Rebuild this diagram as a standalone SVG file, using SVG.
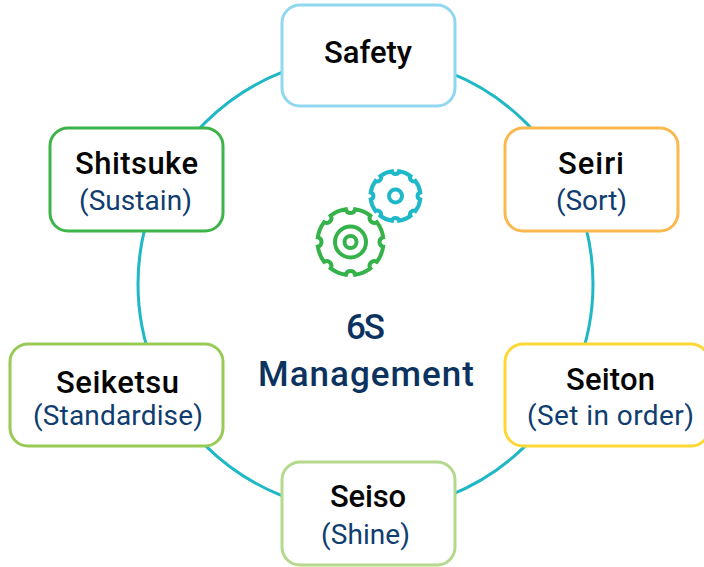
<svg xmlns="http://www.w3.org/2000/svg" width="704" height="567" viewBox="0 0 704 567">
<style>
.n{fill:#fff;stroke-width:3}
.t{font-family:"Roboto","Liberation Sans",sans-serif;font-size:31px;font-weight:500;fill:#050505;text-anchor:middle}
.s{font-family:"Roboto","Liberation Sans",sans-serif;font-size:28px;font-weight:400;fill:#0f3d70;text-anchor:middle}
.c{font-family:"Roboto","Liberation Sans",sans-serif;font-size:35px;font-weight:500;fill:#0c3360;text-anchor:middle}
.g{fill:none;stroke-width:4}
</style>
<rect width="704" height="567" fill="#fff"/>
<g id="connectors"><circle cx="365.5" cy="284" r="227.5" fill="none" stroke="#1fb8c4" stroke-width="3"/></g>
<g id="safety"><rect class="n" x="282" y="5" width="173" height="101" rx="18" stroke="#8fd8ef"/><text class="t" x="368" y="63" textLength="88">Safety</text></g>
<g id="seiri"><rect class="n" x="505" y="128" width="173" height="103" rx="18" stroke="#fbb84e"/><text class="t" x="591" y="174" textLength="66">Seiri</text><text class="s" x="591.5" y="210" textLength="71">(Sort)</text></g>
<g id="seiton"><rect class="n" x="505" y="344" width="204" height="102" rx="18" stroke="#fdd835"/><text class="t" x="610.5" y="390" textLength="89">Seiton</text><text class="s" x="610.5" y="425" textLength="167">(Set in order)</text></g>
<g id="seiso"><rect class="n" x="282" y="462" width="173" height="103" rx="18" stroke="#b5d98c"/><text class="t" x="368" y="507" textLength="76">Seiso</text><text class="s" x="365.5" y="544" textLength="89">(Shine)</text></g>
<g id="seiketsu"><rect class="n" x="10" y="344" width="213" height="102" rx="18" stroke="#98cb55"/><text class="t" x="117.5" y="393" textLength="123">Seiketsu</text><text class="s" x="118" y="425" textLength="170">(Standardise)</text></g>
<g id="shitsuke"><rect class="n" x="50" y="128" width="173" height="103" rx="18" stroke="#3cb44a"/><text class="t" x="136.5" y="174" textLength="123">Shitsuke</text><text class="s" x="135.5" y="210" textLength="113">(Sustain)</text></g>
<g id="gears">
<g transform="translate(395.5 196)" class="g" stroke="#1fb8c9"><path d="M3.48 -24.76A25 25 0 0 1 15.05 -19.97A3.6 3.6 0 0 0 19.97 -15.05A25 25 0 0 1 24.76 -3.48A3.6 3.6 0 0 0 24.76 3.48A25 25 0 0 1 19.97 15.05A3.6 3.6 0 0 0 15.05 19.97A25 25 0 0 1 3.48 24.76A3.6 3.6 0 0 0 -3.48 24.76A25 25 0 0 1 -15.05 19.97A3.6 3.6 0 0 0 -19.97 15.05A25 25 0 0 1 -24.76 3.48A3.6 3.6 0 0 0 -24.76 -3.48A25 25 0 0 1 -19.97 -15.05A3.6 3.6 0 0 0 -15.05 -19.97A25 25 0 0 1 -3.48 -24.76A3.6 3.6 0 0 0 3.48 -24.76Z"/><circle r="6.5"/></g>
<g transform="translate(350.5 242)" class="g" stroke="#35b34a"><path d="M4.59 -32.68A33 33 0 0 1 19.86 -26.35A4.7 4.7 0 0 0 26.35 -19.86A33 33 0 0 1 32.68 -4.59A4.7 4.7 0 0 0 32.68 4.59A33 33 0 0 1 26.35 19.86A4.7 4.7 0 0 0 19.86 26.35A33 33 0 0 1 4.59 32.68A4.7 4.7 0 0 0 -4.59 32.68A33 33 0 0 1 -19.86 26.35A4.7 4.7 0 0 0 -26.35 19.86A33 33 0 0 1 -32.68 4.59A4.7 4.7 0 0 0 -32.68 -4.59A33 33 0 0 1 -26.35 -19.86A4.7 4.7 0 0 0 -19.86 -26.35A33 33 0 0 1 -4.59 -32.68A4.7 4.7 0 0 0 4.59 -32.68Z"/><circle r="15.5"/><circle r="6"/></g>
</g>
<g id="center"><text class="c" x="365.5" y="339" textLength="39">6S</text><text class="c" x="366" y="386" textLength="216">Management</text></g>
</svg>
